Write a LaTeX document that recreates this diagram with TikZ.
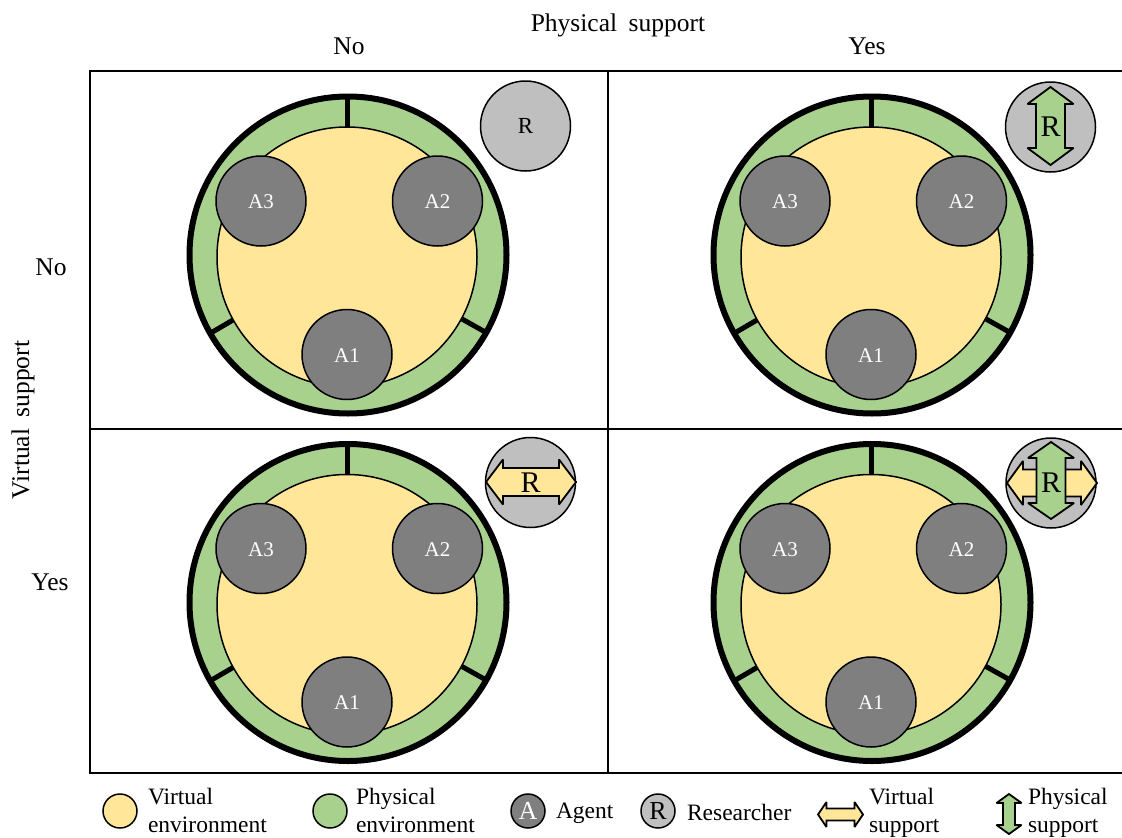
\documentclass[tikz,border=0pt]{standalone}
\usepackage{fontspec}
\setmainfont{Liberation Serif}
\definecolor{virt}{HTML}{FFE699}
\definecolor{phys}{HTML}{A9D18E}
\definecolor{agentgray}{HTML}{7F7F7F}
\definecolor{resgray}{HTML}{BFBFBF}
\newcommand{\hsup}[6]{% cx cy halflen basedist headhalf shafthalf
  \draw[arrowline,fill=virt] (#1-#3,#2) -- (#1-#4,#2-#5) -- (#1-#4,#2-#6) -- (#1+#4,#2-#6) -- (#1+#4,#2-#5) -- (#1+#3,#2)
    -- (#1+#4,#2+#5) -- (#1+#4,#2+#6) -- (#1-#4,#2+#6) -- (#1-#4,#2+#5) -- cycle;}
\newcommand{\vsup}[6]{%
  \draw[arrowline,fill=phys] (#1,#2-#3) -- (#1+#5,#2-#4) -- (#1+#6,#2-#4) -- (#1+#6,#2+#4) -- (#1+#5,#2+#4) -- (#1,#2+#3)
    -- (#1-#5,#2+#4) -- (#1-#6,#2+#4) -- (#1-#6,#2-#4) -- (#1-#5,#2-#4) -- cycle;}
\tikzset{
  x=1pt,y=-1pt,
  txt/.style={font=\fontsize{23.5}{28}\selectfont,inner sep=0pt,outer sep=0pt},
  headtxt/.style={font=\fontsize{25.5}{30}\selectfont,inner sep=0pt,outer sep=0pt},
  legtxt/.style={txt,anchor=west,align=left},
  disc/.style={circle,draw=black,inner sep=0pt,outer sep=0pt},
  ring/.style={disc,fill=phys,line width=6pt,minimum size=317pt},
  world/.style={disc,fill=virt,line width=1.5pt,minimum size=260pt},
  agent/.style={disc,fill=agentgray,line width=1.5pt,minimum size=90pt},
  agentlabel/.style={text=white,font=\fontsize{21}{24}\selectfont,inner sep=0pt},
  researcher/.style={disc,fill=resgray,line width=1.5pt,minimum size=90pt},
  legdisc/.style={disc,line width=1.5pt,minimum size=34pt},
  divider/.style={line width=5pt},
  grid line/.style={line width=2pt},
  arrowline/.style={draw=black,line width=1.8pt,miter limit=3},
}
\begin{document}
\begin{tikzpicture}
\useasboundingbox (0,0) rectangle (1122,838);
% grid
\draw[grid line] (1122,71) -- (90,71) -- (90,773) -- (1122,773);
\draw[grid line] (608,71) -- (608,773);
\draw[grid line] (90,429) -- (1122,429);
% panels
\foreach \n/\dx/\dy in {p/0/0,q/524/0,r/0/347.5,s/524/347.5}{
  \begin{scope}[shift={(\dx,\dy)}]
    \node[ring] (\n-ring) at (348,255) {};
    \node[world] (\n-world) at (347,257) {};
    \draw[divider] (347.5,96) -- (347.5,127);
    \draw[divider] (209,334) -- (233,320);
    \draw[divider] (462,319) -- (487,333);
    \node[agent] (\n-a3) at (261,201) {};
    \node[agentlabel] at (261,202) {A3};
    \node[agent] (\n-a2) at (437.5,201) {};
    \node[agentlabel] at (437.5,202) {A2};
    \node[agent] (\n-a1) at (347,354.5) {};
    \node[agentlabel] at (347,355.5) {A1};
  \end{scope}
}
% researcher discs
\node[researcher,font=\fontsize{23}{26}\selectfont] (rp) at (525.5,126) {R};
\node[researcher] (rq) at (1050.5,127) {};
\vsup{1050.5}{126}{39}{22}{23}{14.5}
\node[txt,font=\fontsize{30}{36}\selectfont] at (rq) {R};
\node[researcher] (rr) at (530.5,482.5) {};
\hsup{531}{482}{45}{28}{22.5}{14}
\node[txt,font=\fontsize{30}{36}\selectfont] at (rr) {R};
\node[researcher] (rs) at (1051,483) {};
\hsup{1052}{483}{45}{29}{22}{13.5}
\vsup{1051}{480.5}{38.5}{22.5}{23}{14.5}
\node[txt,font=\fontsize{30}{36}\selectfont] at (rs) {R};
% headers
\node[headtxt] (hphys) at (618,25) {Physical\hspace{0.45em}support};
\node[headtxt] (hno) at (349,46) {No};
\node[headtxt] (hyes) at (867,46) {Yes};
\node[headtxt,rotate=90] (hvirt) at (23,420) {Virtual\hspace{0.45em}support};
\node[headtxt] (vno) at (51,267) {No};
\node[headtxt] (vyes) at (50,582) {Yes};
% legend
\node[legdisc,fill=virt] (l1) at (120,811) {};
\node[legtxt] (l1t) at (148,810) {Virtual\\environment};
\node[legdisc,fill=phys] (l2) at (330,811) {};
\node[legtxt] (l2t) at (356,810) {Physical\\environment};
\node[legdisc,fill=agentgray,text=white,font=\fontsize{26}{30}\selectfont] (l3) at (528,811) {A};
\node[legtxt] (l3t) at (556,813) {Agent};
\node[legdisc,fill=resgray,font=\fontsize{26}{30}\selectfont] (l4) at (658,811) {R};
\node[legtxt] (l4t) at (687,812) {Researcher};
\hsup{840.5}{814.5}{22.5}{14}{12.5}{6}
\node[legtxt] (l5t) at (869,813) {Virtual\\support};
\vsup{1009}{814}{20}{11}{12.5}{6}
\node[legtxt] (l6t) at (1028,813) {Physical\\support};
\end{tikzpicture}
\end{document}
